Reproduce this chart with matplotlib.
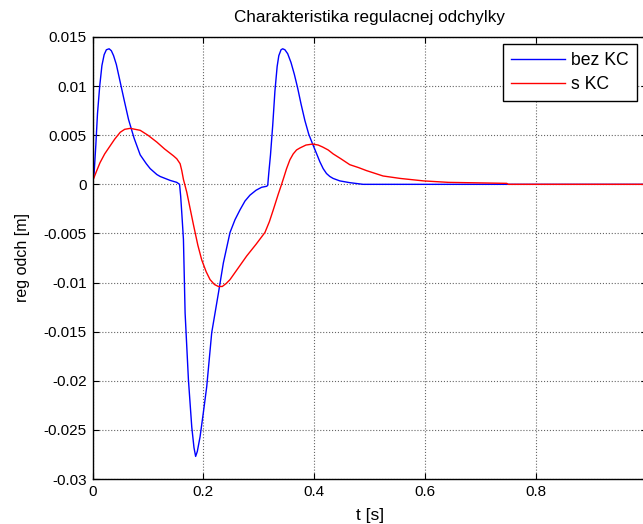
import matplotlib
matplotlib.use('Agg')
import matplotlib.pyplot as plt

plt.rcParams['font.family'] = ['Liberation Sans', 'DejaVu Sans']

# bez KC (blue)
t_bez = [0.000, 0.003, 0.006, 0.009, 0.013, 0.017, 0.021, 0.025, 0.030, 0.034,
         0.038, 0.043, 0.050, 0.057, 0.065, 0.075, 0.086, 0.097, 0.104, 0.116,
         0.122, 0.140, 0.152, 0.157, 0.159, 0.161, 0.164, 0.167, 0.173, 0.179,
         0.183, 0.186, 0.189, 0.194, 0.200, 0.206, 0.215, 0.227, 0.236, 0.248,
         0.257, 0.266, 0.275, 0.284, 0.295, 0.305, 0.314, 0.316, 0.318, 0.321,
         0.325, 0.329, 0.333, 0.336, 0.340, 0.343, 0.347, 0.352, 0.358, 0.364,
         0.370, 0.376, 0.383, 0.390, 0.397, 0.405, 0.410, 0.416, 0.422, 0.428,
         0.434, 0.446, 0.464, 0.488, 0.600, 0.800, 1.000]
y_bez = [0.0000, 0.0012, 0.0040, 0.0072, 0.0100, 0.0121, 0.0132, 0.0137, 0.0138, 0.0136,
         0.0131, 0.0122, 0.0104, 0.0086, 0.0066, 0.0047, 0.0030, 0.0021, 0.0016, 0.0010,
         0.0008, 0.0004, 0.0002, 0.0000, -0.0012, -0.0029, -0.0056, -0.0131, -0.0199, -0.0247,
         -0.0268, -0.0277, -0.0272, -0.0257, -0.0232, -0.0206, -0.0151, -0.0111, -0.0080, -0.0049,
         -0.0036, -0.0026, -0.0017, -0.0011, -0.0006, -0.0003, -0.0002, -0.0001, 0.0012, 0.0030,
         0.0060, 0.0095, 0.0120, 0.0131, 0.0137, 0.0138, 0.0137, 0.0133, 0.0124, 0.0112,
         0.0098, 0.0082, 0.0065, 0.0051, 0.0041, 0.0030, 0.0023, 0.0016, 0.0011, 0.0008,
         0.0006, 0.00035, 0.00017, 0.0000, 0.0000, 0.0000, 0.0000]

# s KC (red)
t_s = [0.000, 0.007, 0.0135, 0.022, 0.0316, 0.040, 0.050, 0.058, 0.068, 0.077,
       0.086, 0.100, 0.116, 0.130, 0.146, 0.152, 0.158, 0.161, 0.164, 0.170,
       0.182, 0.190, 0.197, 0.205, 0.212, 0.220, 0.227, 0.234, 0.241, 0.248,
       0.263, 0.278, 0.295, 0.311, 0.319, 0.326, 0.335, 0.341, 0.345, 0.350,
       0.356, 0.362, 0.368, 0.374, 0.385, 0.397, 0.407, 0.415, 0.425, 0.434,
       0.448, 0.464, 0.480, 0.494, 0.524, 0.555, 0.597, 0.642, 0.747, 0.750,
       1.000]
y_s = [0.0003, 0.0013, 0.0022, 0.0031, 0.0039, 0.0046, 0.0053, 0.0056, 0.0057, 0.0056,
       0.0055, 0.0050, 0.0043, 0.0036, 0.0029, 0.0026, 0.0021, 0.0014, 0.0005, -0.0008,
       -0.0041, -0.0062, -0.0077, -0.0089, -0.0097, -0.0102, -0.0104, -0.0104, -0.0101, -0.0097,
       -0.0085, -0.0073, -0.0061, -0.0049, -0.0038, -0.0026, -0.0010, 0.0000, 0.0007, 0.0016,
       0.0025, 0.0031, 0.0035, 0.0037, 0.0040, 0.0041, 0.0040, 0.0038, 0.0035, 0.0031,
       0.0026, 0.0020, 0.0017, 0.0014, 0.00085, 0.0006, 0.00035, 0.0002, 0.0001, 0.0000,
       0.0000]

xticks = [0, 0.2, 0.4, 0.6, 0.8, 1]
xticklabels = ['0', '0.2', '0.4', '0.6', '0.8', '1']
yticks = [0.015, 0.01, 0.005, 0, -0.005, -0.01, -0.015, -0.02, -0.025, -0.03]
yticklabels = ['0.015', '0.01', '0.005', '0', '-0.005', '-0.01', '-0.015', '-0.02', '-0.025', '-0.03']

fig = plt.figure(figsize=(6.43, 5.24), dpi=100)
ax = fig.add_axes([92.5 / 643, 45 / 524, 554.5 / 643, 442 / 524])

ax.plot(t_bez, y_bez, color='#0000ff', lw=1.0, label='bez KC')
ax.plot(t_s, y_s, color='#ff0000', lw=1.0, label='s KC')

ax.set_xlim(0, 1)
ax.set_ylim(-0.03, 0.015)
ax.set_xticks(xticks)
ax.set_xticklabels(xticklabels)
ax.set_yticks(yticks)
ax.set_yticklabels(yticklabels)
ax.tick_params(direction='in', top=True, right=True, length=4, width=0.8,
               labelsize=11, colors='black', pad=4)
ax.grid(True, linestyle=':', color='0.4', linewidth=0.8)
for s in ax.spines.values():
    s.set_linewidth(1.0)

ax.set_title('Charakteristika regulacnej odchylky', fontsize=12.3, pad=10.5)
ax.set_xlabel('t [s]', fontsize=12.5, labelpad=7)
ax.set_ylabel('reg odch [m]', fontsize=11.5, labelpad=10)

leg = ax.legend(loc='upper right', bbox_to_anchor=(0.982, 0.984), borderaxespad=0,
                fancybox=False, framealpha=1, edgecolor='black', fontsize=12.7,
                handlelength=3.1, borderpad=0.45, labelspacing=0.4, handletextpad=0.35)
leg.get_frame().set_linewidth(1.0)

fig.savefig('out.png', dpi=100)
